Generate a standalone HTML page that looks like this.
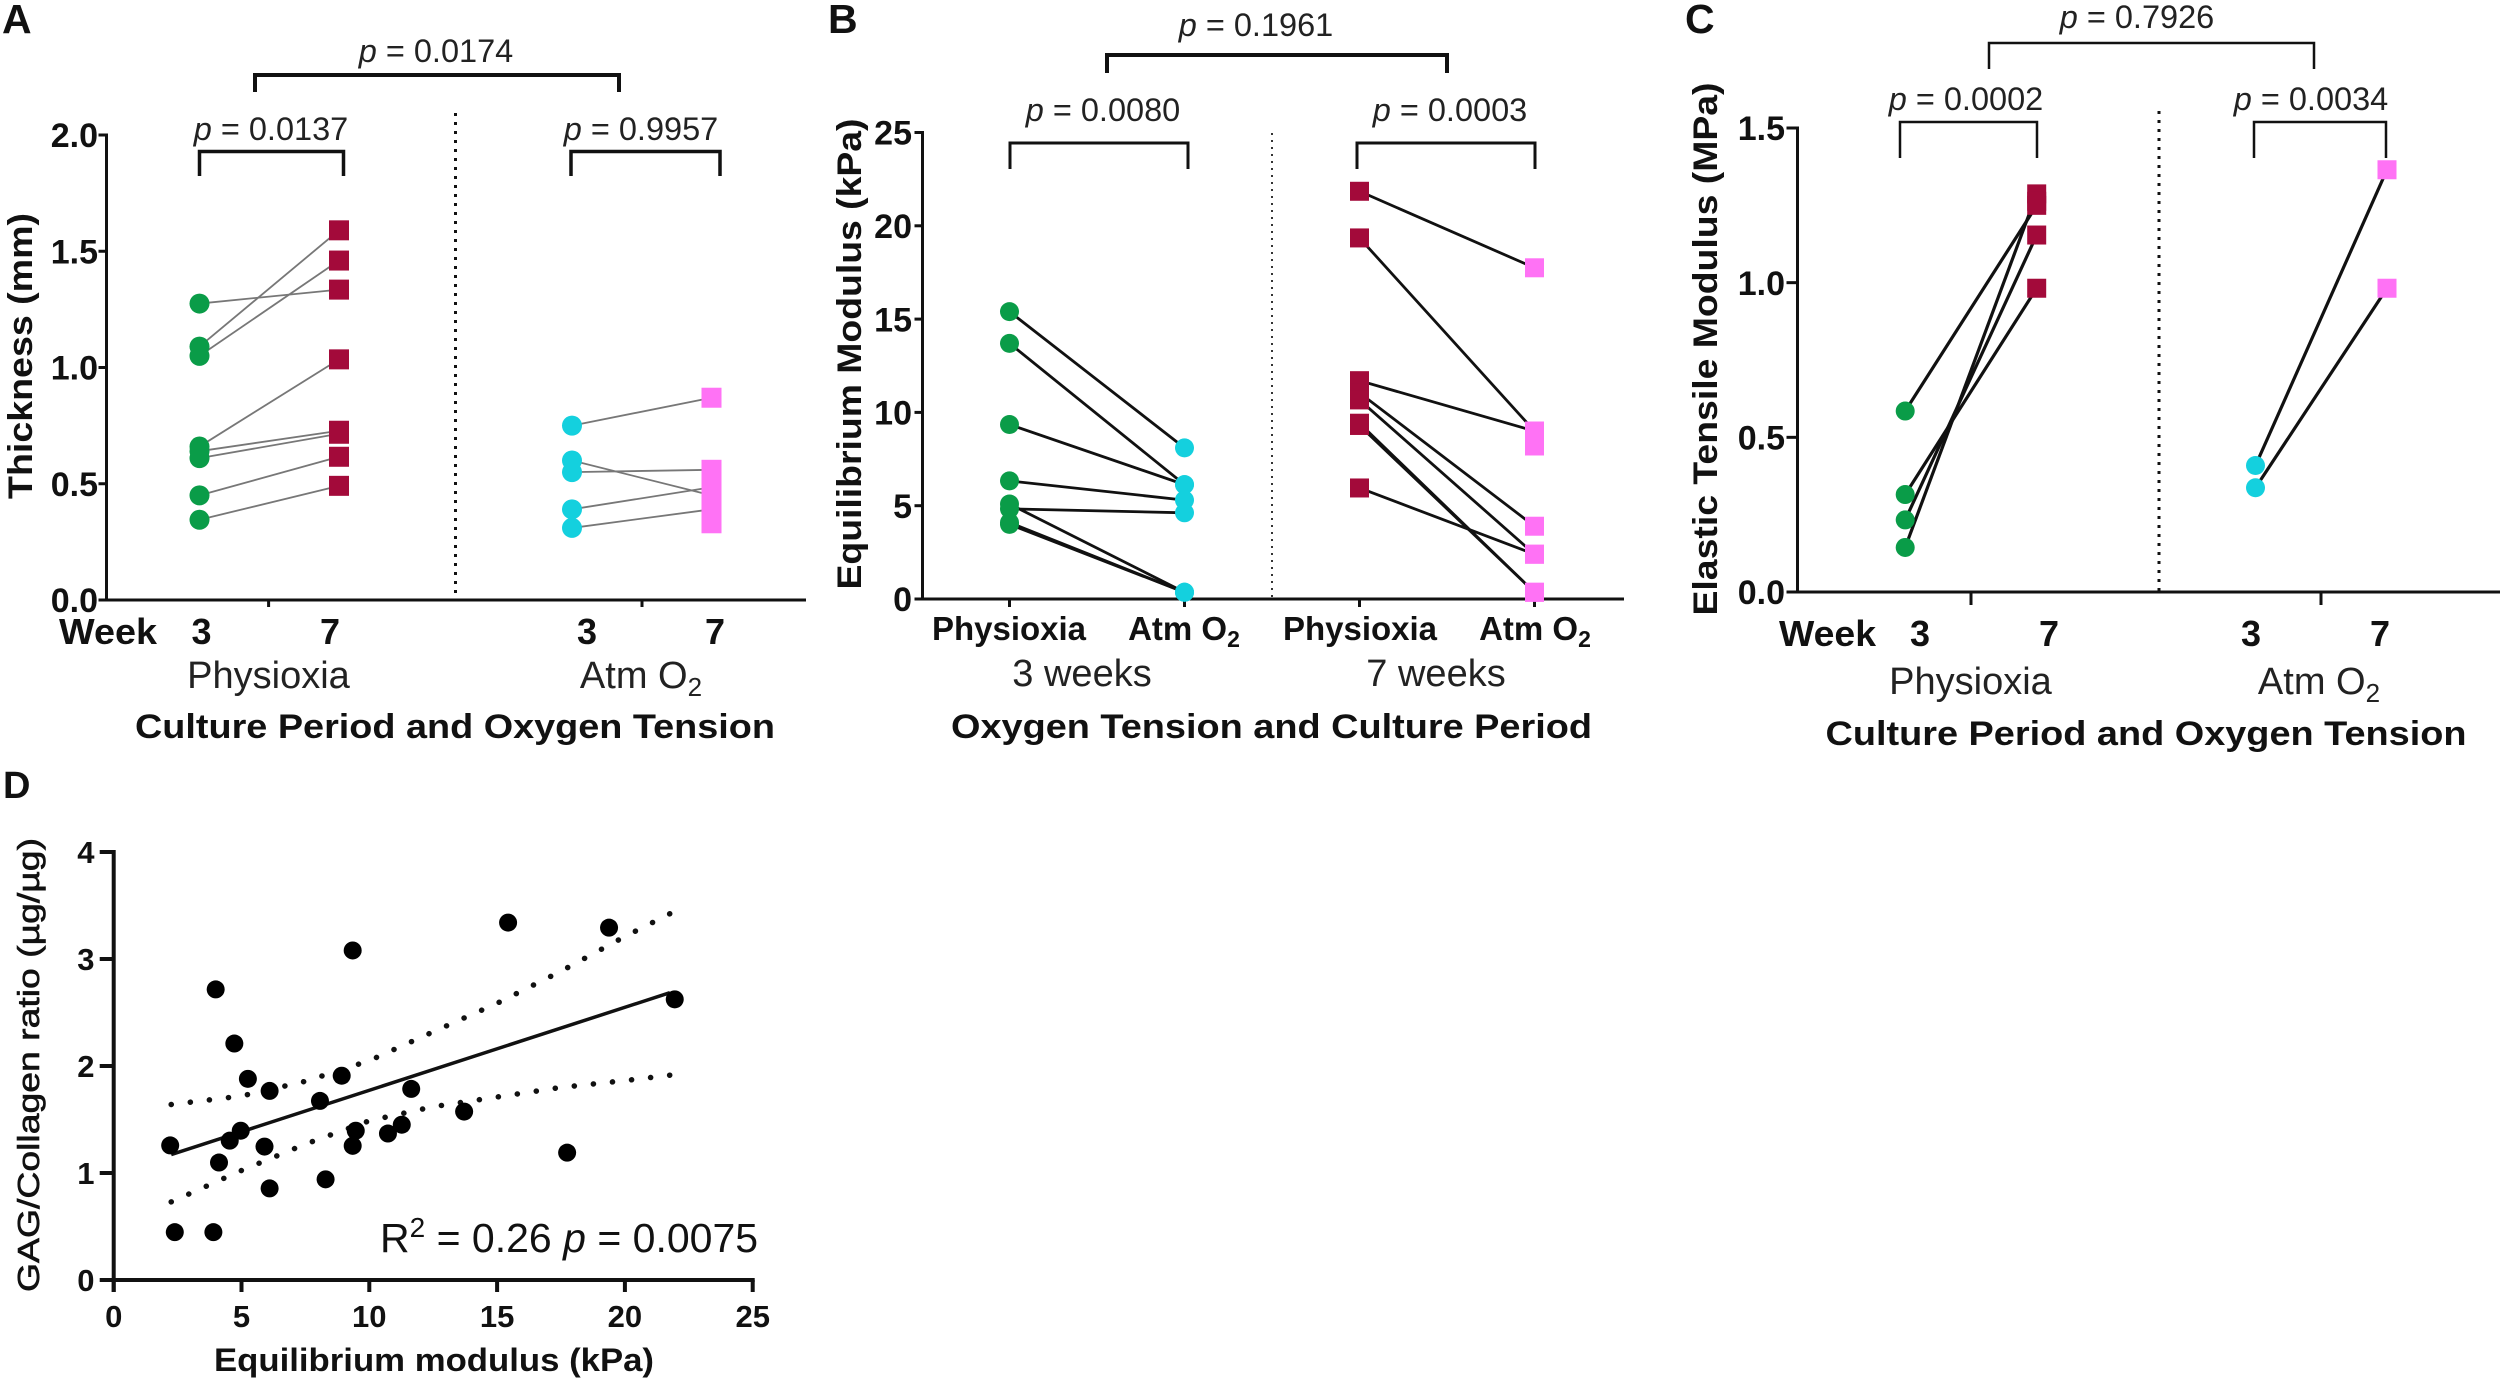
<!DOCTYPE html>
<html lang="en">
<head>
<meta charset="utf-8">
<title>Cartilage mechanical properties panels</title>
<style>
html,body{margin:0;padding:0;background:#fff;}
svg{display:block;}
text{font-family:"Liberation Sans",Arial,sans-serif;fill:#111;}
.pv{font-size:32.5px;text-anchor:middle;fill:#222;}
.pl{font-size:41px;font-weight:bold;}
.ttl{font-size:34px;font-weight:bold;}
.grp{font-size:38px;text-anchor:middle;fill:#222;}
.wk{font-size:36px;font-weight:bold;text-anchor:middle;}
.cat{font-size:33px;font-weight:bold;text-anchor:middle;}
.brk{fill:none;stroke:#111;}
</style>
</head>
<body>
<svg id="figure" width="2500" height="1384" viewBox="0 0 2500 1384" xmlns="http://www.w3.org/2000/svg">
<rect x="0" y="0" width="2500" height="1384" fill="#fff"/>

<!-- Panel A static -->
<g>
  <text class="pl" x="2" y="33">A</text>
  <text class="pv" x="436" y="62"><tspan font-style="italic">p</tspan> = 0.0174</text>
  <path class="brk" stroke-width="4" d="M255 92V75H619V92"/>
  <text class="pv" x="271" y="140"><tspan font-style="italic">p</tspan> = 0.0137</text>
  <path class="brk" stroke-width="3.5" d="M199.5 176V151.500H343.500V176"/>
  <text class="pv" x="641" y="140"><tspan font-style="italic">p</tspan> = 0.9957</text>
  <path class="brk" stroke-width="3.5" d="M571 176V151.500H720V176"/>
  <line x1="455.500" y1="113" x2="455.500" y2="596" stroke="#111" stroke-width="3" stroke-dasharray="3 6"/>
  <text class="ttl" transform="translate(32 356) rotate(-90)" text-anchor="middle" textLength="286" lengthAdjust="spacingAndGlyphs">Thickness (mm)</text>
  <text class="wk" x="108" y="644" textLength="98" lengthAdjust="spacingAndGlyphs">Week</text>
  <text class="wk" x="201.500" y="644">3</text>
  <text class="wk" x="330" y="644">7</text>
  <text class="wk" x="587" y="644">3</text>
  <text class="wk" x="715" y="644">7</text>
  <text class="grp" x="268.500" y="688">Physioxia</text>
  <text class="grp" x="641" y="688">Atm O<tspan font-size="26" dy="8">2</tspan></text>
  <text class="ttl" x="455" y="738" text-anchor="middle" textLength="640" lengthAdjust="spacingAndGlyphs">Culture Period and Oxygen Tension</text>
</g>

<!-- Panel B static -->
<g>
  <text class="pl" x="828" y="33">B</text>
  <text class="pv" x="1256" y="36"><tspan font-style="italic">p</tspan> = 0.1961</text>
  <path class="brk" stroke-width="4" d="M1107 73V55H1447V73"/>
  <text class="pv" x="1103" y="121"><tspan font-style="italic">p</tspan> = 0.0080</text>
  <path class="brk" stroke-width="3" d="M1010 169V143H1188V169"/>
  <text class="pv" x="1450" y="121"><tspan font-style="italic">p</tspan> = 0.0003</text>
  <path class="brk" stroke-width="3" d="M1357 169V143H1535V169"/>
  <line x1="1272" y1="133" x2="1272" y2="597" stroke="#333" stroke-width="2" stroke-dasharray="2 5"/>
  <text class="ttl" transform="translate(861 354) rotate(-90)" text-anchor="middle" textLength="471" lengthAdjust="spacingAndGlyphs">Equilibrium Modulus (kPa)</text>
  <text class="cat" x="1009" y="640">Physioxia</text>
  <text class="cat" x="1184" y="640">Atm O<tspan font-size="23" dy="7">2</tspan></text>
  <text class="cat" x="1360" y="640">Physioxia</text>
  <text class="cat" x="1535" y="640">Atm O<tspan font-size="23" dy="7">2</tspan></text>
  <text class="grp" x="1082" y="686">3 weeks</text>
  <text class="grp" x="1436" y="686">7 weeks</text>
  <text class="ttl" x="1271.500" y="738" text-anchor="middle" textLength="641" lengthAdjust="spacingAndGlyphs">Oxygen Tension and Culture Period</text>
</g>

<!-- Panel C static -->
<g>
  <text class="pl" x="1685" y="33">C</text>
  <text class="pv" x="2137" y="28"><tspan font-style="italic">p</tspan> = 0.7926</text>
  <path class="brk" stroke-width="2.5" d="M1989 69V43H2314V69"/>
  <text class="pv" x="1966" y="110"><tspan font-style="italic">p</tspan> = 0.0002</text>
  <path class="brk" stroke-width="2.5" d="M1900 158V122H2037V158"/>
  <text class="pv" x="2311" y="110"><tspan font-style="italic">p</tspan> = 0.0034</text>
  <path class="brk" stroke-width="2.5" d="M2254 158V122H2386V158"/>
  <line x1="2159" y1="111" x2="2159" y2="592" stroke="#111" stroke-width="3" stroke-dasharray="3 6"/>
  <text class="ttl" transform="translate(1717 349) rotate(-90)" text-anchor="middle" textLength="533" lengthAdjust="spacingAndGlyphs">Elastic Tensile Modulus (MPa)</text>
  <text class="wk" x="1827.500" y="646" textLength="97" lengthAdjust="spacingAndGlyphs">Week</text>
  <text class="wk" x="1920" y="646">3</text>
  <text class="wk" x="2049" y="646">7</text>
  <text class="wk" x="2251" y="646">3</text>
  <text class="wk" x="2380" y="646">7</text>
  <text class="grp" x="1970.500" y="694">Physioxia</text>
  <text class="grp" x="2319" y="694">Atm O<tspan font-size="26" dy="8">2</tspan></text>
  <text class="ttl" x="2146" y="745" text-anchor="middle" textLength="641" lengthAdjust="spacingAndGlyphs">Culture Period and Oxygen Tension</text>
</g>

<!-- Panel D static -->
<g>
  <text class="pl" x="3" y="798" font-size="38" style="font-size:38px">D</text>
  <text transform="translate(39 1065) rotate(-90)" text-anchor="middle" font-size="31" stroke="#111" stroke-width="0.6" textLength="454" lengthAdjust="spacingAndGlyphs">GAG/Collagen ratio (µg/µg)</text>
  <text x="434" y="1371" text-anchor="middle" font-size="32" font-weight="bold" textLength="440" lengthAdjust="spacingAndGlyphs">Equilibrium modulus (kPa)</text>
  <text x="380" y="1252" font-size="41" fill="#222">R<tspan font-size="28" dy="-15">2</tspan><tspan dy="15"> = 0.26 </tspan><tspan font-style="italic">p</tspan> = 0.0075</text>
</g>

<g id="marks"></g>

<script>
// ---------- Panel A: thickness (mm) ----------
const aYTicks = [0, 0.5, 1, 1.5, 2];
const aPhysioxiaWeek3 = [1.275, 1.09, 1.05, 0.66, 0.64, 0.61, 0.45, 0.345];
const aPhysioxiaWeek7 = [1.335, 1.59, 1.46, 1.035, 0.728, 0.715, 0.616, 0.491];
const aAtmWeek3 = [0.75, 0.60, 0.55, 0.39, 0.31];
const aAtmWeek7 = [0.87, 0.45, 0.56, 0.485, 0.39];
const aAtmWeek7Unpaired = [0.33];

// ---------- Panel B: equilibrium modulus (kPa) ----------
const bYTicks = [0, 5, 10, 15, 20, 25];
const bPhysioxia3 = [15.4, 13.7, 9.35, 6.33, 4.83, 5.09, 4.1, 4.0];
const bAtm3 = [8.1, 6.13, 6.13, 5.3, 4.62, 0.36, 0.36, 0.36];
const bPhysioxia7 = [21.85, 19.35, 11.7, 11.05, 10.67, 9.42, 9.3, 5.95];
const bAtm7 = [17.75, 9.0, 9.0, 3.9, 2.4, 0.36, 0.36, 2.4];
const bAtm7Unpaired = [8.2];

// ---------- Panel C: elastic tensile modulus (MPa) ----------
const cYTicks = [0, 0.5, 1, 1.5];
const cPhysioxiaWeek3 = [0.585, 0.315, 0.233, 0.144];
const cPhysioxiaWeek7 = [1.25, 0.982, 1.154, 1.287];
const cPhysioxiaWeek7Unpaired = [1.263];
const cAtmWeek3 = [0.409, 0.337];
const cAtmWeek7 = [1.365, 0.982];

// ---------- Panel D: GAG/collagen vs equilibrium modulus ----------
const dXTicks = [0, 5, 10, 15, 20, 25];
const dYTicks = [0, 1, 2, 3, 4];
const dModulus = [2.21, 2.39, 3.9, 3.99, 4.12, 4.54, 4.72, 4.97, 5.25, 5.9, 6.1, 6.1, 8.07, 8.29, 8.92, 9.35, 9.35, 9.47, 10.73, 11.27, 11.64, 13.71, 15.43, 17.74, 19.38, 21.95];
const dRatio = [1.258, 0.447, 0.447, 2.716, 1.098, 1.302, 2.21, 1.395, 1.88, 1.247, 1.767, 0.856, 1.674, 0.941, 1.909, 3.08, 1.254, 1.395, 1.369, 1.451, 1.786, 1.574, 3.34, 1.19, 3.293, 2.623];
const dFitX = [2.25, 21.76];
const dFitY = [1.172, 2.685];
const dBandX = [2.25, 5, 7.5, 10, 12.5, 15, 17.5, 20, 21.76];
const dBandUpper = [1.64, 1.72, 1.857, 2.05, 2.32, 2.586, 2.886, 3.21, 3.423];
const dBandLower = [0.73, 1.023, 1.27, 1.488, 1.62, 1.71, 1.80, 1.864, 1.914];

// ---------- colours ----------
const GREEN = '#0a9c48', CRIMSON = '#a30a3a', CYAN = '#14d0de', PINK = '#ff72f5';

// ---------- axis functions ----------
const yA = v => 600 - v * (600 - 135) / 2;
const xA = (group, time) => 199.5 + group * 372.5 + time * 139.5;
const yB = v => 599 - v * (599 - 132.5) / 25;
const xB = i => 1009.5 + i * 175;
const yC = v => 592 - v * (592 - 128) / 1.5;
const xC = (group, time) => 1905.2 + group * 350.3 + time * 131.5;
const xD = v => 113.7 + v * 25.56;
const yD = v => 1280 - v * (1280 - 852) / 4;

const root = document.getElementById('marks');
const NS = 'http://www.w3.org/2000/svg';

function mk(tag, props, name) {
  const el = document.createElementNS(NS, tag);
  for (const k in props) el.setAttribute(k, props[k]);
  
  
  root.appendChild(el);
  return el;
}
function circle(x, y, r, fill, name) {
  mk('circle', {cx: x, cy: y, r: r, fill: fill}, name);
}
function square(x, y, h, fill, name) {
  mk('rect', {x: x - h, y: y - h, width: 2 * h, height: 2 * h, fill: fill}, name);
}
function link(x1, y1, x2, y2, color, width, name) {
  mk('line', {x1: x1, y1: y1, x2: x2, y2: y2, stroke: color, 'stroke-width': width}, name);
}
function tickLabel(x, y, str, anchor, size, name) {
  const t = mk('text', {x: x, y: y, 'text-anchor': anchor, 'font-size': size, 'font-weight': 'bold'}, name);
  t.textContent = str;
}
function yAxis(prefix, x, yFn, ticks, digits, top, bottom, tickLen, labelEnd, size, width) {
  link(x, top, x, bottom, '#111', width, prefix + '-y-axis');
  ticks.forEach(function (v) {
    link(x - tickLen, yFn(v), x, yFn(v), '#111', width, prefix + '-y-tick');
    tickLabel(labelEnd, yFn(v) + size * 0.36, v.toFixed(digits), 'end', size, prefix + '-y-tick-label');
  });
}

// ---------- Panel A ----------
yAxis('a', 106.5, yA, aYTicks, 1, yA(2) - 1.5, 601.5, 8, 98, 34, 3);
link(105, 600, 806, 600, '#111', 3, 'a-x-axis');
link(268.6, 600, 268.6, 607, '#111', 3, 'a-x-tick-physioxia');
link(642, 600, 642, 607, '#111', 3, 'a-x-tick-atm');
aPhysioxiaWeek3.forEach(function (v, i) {
  link(xA(0, 0), yA(v), xA(0, 1), yA(aPhysioxiaWeek7[i]), '#777', 1.8, 'a-pair-line-physioxia');
});
aAtmWeek3.forEach(function (v, i) {
  link(xA(1, 0), yA(v), xA(1, 1), yA(aAtmWeek7[i]), '#777', 1.8, 'a-pair-line-atm');
});
aPhysioxiaWeek3.forEach(function (v) { circle(xA(0, 0), yA(v), 10, GREEN, 'a-point-physioxia-week3'); });
aPhysioxiaWeek7.forEach(function (v) { square(xA(0, 1), yA(v), 10, CRIMSON, 'a-point-physioxia-week7'); });
aAtmWeek3.forEach(function (v) { circle(xA(1, 0), yA(v), 10, CYAN, 'a-point-atm-week3'); });
aAtmWeek7.concat(aAtmWeek7Unpaired).forEach(function (v) { square(xA(1, 1), yA(v), 10, PINK, 'a-point-atm-week7'); });

// ---------- Panel B ----------
yAxis('b', 922.5, yB, bYTicks, 0, yB(25) - 1.5, 600.5, 8, 912, 34, 3);
link(921, 599, 1624, 599, '#111', 3, 'b-x-axis');
[0, 1, 2, 3].forEach(function (i) { link(xB(i), 599, xB(i), 607, '#111', 3, 'b-x-tick'); });
bPhysioxia3.forEach(function (v, i) {
  link(xB(0), yB(v), xB(1), yB(bAtm3[i]), '#111', 2.8, 'b-pair-line-3-weeks');
});
bPhysioxia7.forEach(function (v, i) {
  link(xB(2), yB(v), xB(3), yB(bAtm7[i]), '#111', 2.8, 'b-pair-line-7-weeks');
});
bPhysioxia3.forEach(function (v) { circle(xB(0), yB(v), 9.5, GREEN, 'b-point-physioxia-3-weeks'); });
bAtm3.forEach(function (v) { circle(xB(1), yB(v), 9.5, CYAN, 'b-point-atm-3-weeks'); });
bPhysioxia7.forEach(function (v) { square(xB(2), yB(v), 9.5, CRIMSON, 'b-point-physioxia-7-weeks'); });
bAtm7.concat(bAtm7Unpaired).forEach(function (v) { square(xB(3), yB(v), 9.5, PINK, 'b-point-atm-7-weeks'); });

// ---------- Panel C ----------
yAxis('c', 1797.5, yC, cYTicks, 1, yC(1.5) - 1.5, 593.5, 11, 1785, 34, 3);
link(1796, 592, 2500, 592, '#111', 3, 'c-x-axis');
link(1971, 592, 1971, 605, '#111', 3, 'c-x-tick-physioxia');
link(2321, 592, 2321, 605, '#111', 3, 'c-x-tick-atm');
cPhysioxiaWeek3.forEach(function (v, i) {
  link(xC(0, 0), yC(v), xC(0, 1), yC(cPhysioxiaWeek7[i]), '#111', 3.2, 'c-pair-line-physioxia');
});
cAtmWeek3.forEach(function (v, i) {
  link(xC(1, 0), yC(v), xC(1, 1), yC(cAtmWeek7[i]), '#111', 3.2, 'c-pair-line-atm');
});
cPhysioxiaWeek3.forEach(function (v) { circle(xC(0, 0), yC(v), 9.5, GREEN, 'c-point-physioxia-week3'); });
cPhysioxiaWeek7.concat(cPhysioxiaWeek7Unpaired).forEach(function (v) { square(xC(0, 1), yC(v), 9.5, CRIMSON, 'c-point-physioxia-week7'); });
cAtmWeek3.forEach(function (v) { circle(xC(1, 0), yC(v), 9.5, CYAN, 'c-point-atm-week3'); });
cAtmWeek7.forEach(function (v) { square(xC(1, 1), yC(v), 9.5, PINK, 'c-point-atm-week7'); });

// ---------- Panel D ----------
yAxis('d', 113.7, yD, dYTicks, 0, yD(4) - 2, 1292, 14, 94.5, 31, 4);
link(100, 1280, 754.7, 1280, '#111', 4, 'd-x-axis');
dXTicks.forEach(function (v) {
  link(xD(v), 1280, xD(v), 1292, '#111', 4, 'd-x-tick');
  tickLabel(xD(v), 1327, String(v), 'middle', 31, 'd-x-tick-label');
});
function bandPath(values) {
  return values.map(function (v, i) {
    return (i ? 'L' : 'M') + xD(dBandX[i]).toFixed(1) + ' ' + yD(v).toFixed(1);
  }).join('');
}
function dotted(el) {
  const len = el.getTotalLength();
  const n = Math.round(len / 19);
  el.setAttribute('stroke-dasharray', '0.1 ' + ((len - 0.3) / n - 0.1).toFixed(3));
}
dotted(mk('path', {d: bandPath(dBandUpper), fill: 'none', stroke: '#111', 'stroke-width': 5.5, 'stroke-linecap': 'round'}, 'd-confidence-upper'));
dotted(mk('path', {d: bandPath(dBandLower), fill: 'none', stroke: '#111', 'stroke-width': 5.5, 'stroke-linecap': 'round'}, 'd-confidence-lower'));
link(xD(dFitX[0]), yD(dFitY[0]), xD(dFitX[1]), yD(dFitY[1]), '#111', 3.5, 'd-fit-line');
dModulus.forEach(function (v, i) {
  mk('circle', {cx: xD(v), cy: yD(dRatio[i]), r: 9, fill: '#000'}, 'd-point');
});
</script>
</svg>
</body>
</html>
